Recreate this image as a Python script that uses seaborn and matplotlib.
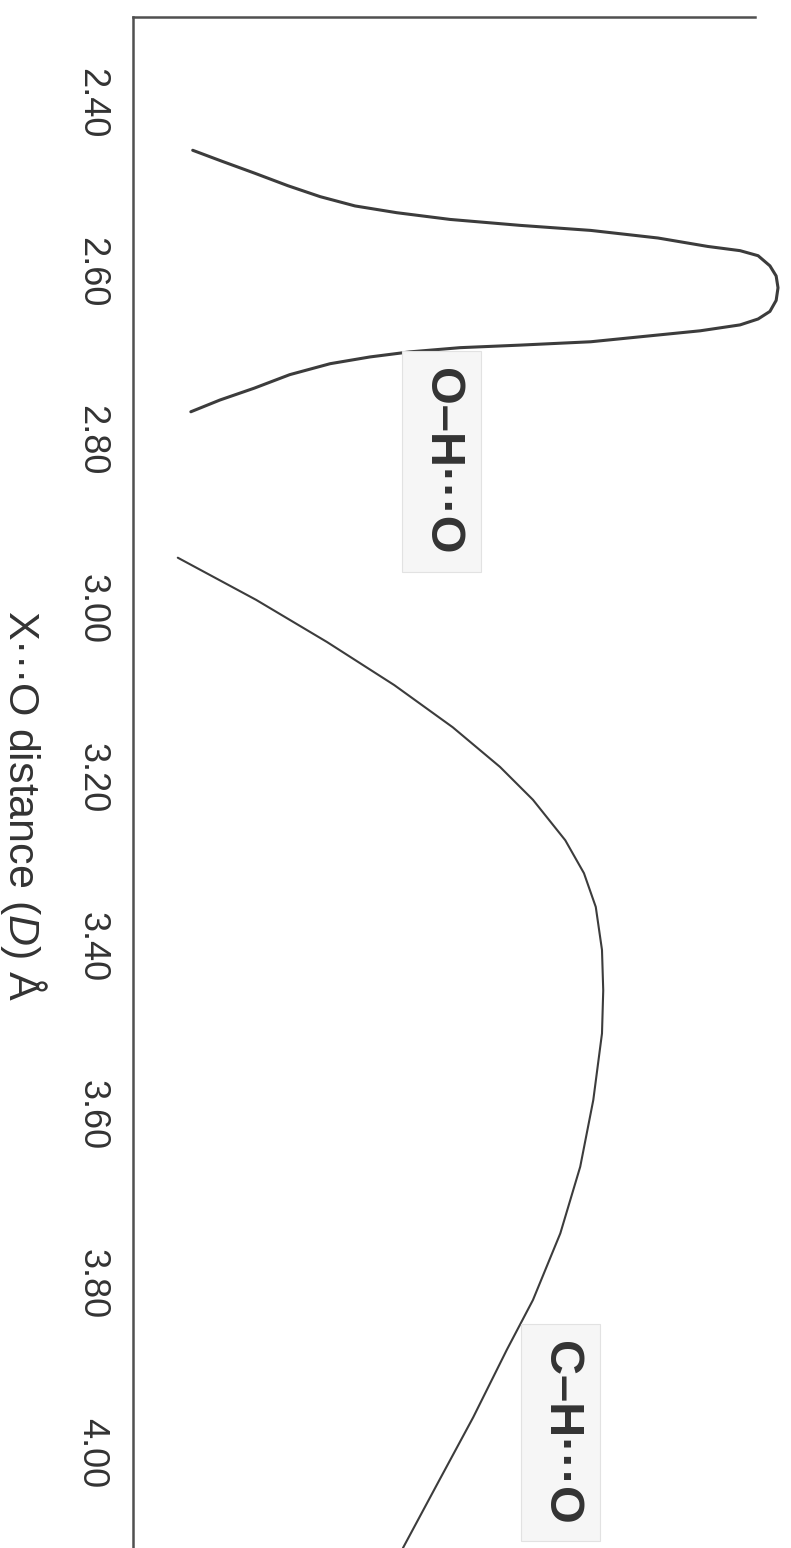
import matplotlib
matplotlib.use('Agg')
import matplotlib.pyplot as plt
import pandas as pd
import seaborn as sns


# O-H...O distribution (distance in angstrom, relative frequency)
oh_distance = [2.456, 2.469, 2.483, 2.498, 2.511, 2.522, 2.530, 2.538, 2.545,
               2.551, 2.560, 2.570, 2.575, 2.581, 2.593, 2.605, 2.619, 2.634,
               2.647, 2.656, 2.663, 2.670, 2.677, 2.683, 2.687, 2.690, 2.695,
               2.701, 2.709, 2.722, 2.738, 2.752, 2.766]
oh_count = [9.6, 14.3, 19.5, 24.9, 30.1, 35.7, 42.4, 51.0, 62.2,
            73.6, 84.4, 92.4, 97.6, 100.5, 102.4, 103.4, 103.7, 103.4,
            102.4, 100.5, 97.6, 91.2, 81.7, 73.6, 62.2, 52.6, 44.5,
            38.1, 31.7, 25.2, 19.5, 14.0, 9.3]

# C-H...O distribution
ch_distance = [2.939, 2.989, 3.039, 3.090, 3.140, 3.187, 3.226, 3.274, 3.313,
               3.353, 3.404, 3.452, 3.503, 3.582, 3.661, 3.740, 3.819, 3.878,
               3.958, 4.036, 4.113]
ch_count = [7.2, 19.8, 31.2, 42.0, 51.4, 59.0, 64.3, 69.5, 72.5,
            74.4, 75.4, 75.6, 75.4, 74.0, 71.9, 68.7, 64.3, 60.1,
            54.7, 49.0, 43.4]

tick_values = [2.40, 2.60, 2.80, 3.00, 3.20, 3.40, 3.60, 3.80, 4.00]
tick_labels = ['2.40', '2.60', '2.80', '3.00', '3.20', '3.40', '3.60', '3.80', '4.00']

sns.set_style('white')
plt.rcParams['font.family'] = ['Liberation Sans', 'DejaVu Sans']
plt.rcParams['mathtext.fontset'] = 'custom'
plt.rcParams['mathtext.rm'] = 'Liberation Sans'
plt.rcParams['mathtext.it'] = 'Liberation Sans:italic'

line_col = '#3c3c3c'
ink = '#333333'

oh_df = pd.DataFrame({'distance': oh_distance, 'count': oh_count})
ch_df = pd.DataFrame({'distance': ch_distance, 'count': ch_count})

fig = plt.figure(figsize=(7.91, 15.48), dpi=100)
ax = fig.add_axes([133 / 791, 0.0, (755 - 133) / 791, 1 - 17 / 1548])

sns.lineplot(data=oh_df, x='count', y='distance', orient='y', estimator=None,
             color=line_col, linewidth=2.2, clip_on=False, ax=ax)
sns.lineplot(data=ch_df, x='count', y='distance', orient='y', estimator=None,
             color=line_col, linewidth=1.5, clip_on=False, ax=ax)

ax.set_xlim(0, 100)
ax.set_ylim(4.113, 2.298)
ax.set_xlabel('')
ax.set_ylabel('')
ax.set_xticks([])
ax.set_yticks(tick_values)
ax.set_yticklabels(tick_labels)
ax.tick_params(axis='y', length=0, pad=17, labelsize=26, labelcolor=ink, labelrotation=-90)
for lab in ax.get_yticklabels():
  lab.set_va('center')

for side in ['bottom', 'right']:
  ax.spines[side].set_visible(False)
for side in ['left', 'top']:
  ax.spines[side].set_color('#505050')
  ax.spines[side].set_linewidth(1.8)

box = dict(boxstyle='square,pad=0.35', facecolor='#f6f6f6', edgecolor='#e2e2e2', linewidth=0.8)
ax.text(49.6, 2.825, 'O\u2013H\u00b7\u00b7\u00b7O', rotation=-90, ha='center', va='center',
        fontsize=35, fontweight='bold', color=ink, bbox=box)
ax.text(68.8, 3.976, 'C\u2013H\u00b7\u00b7\u00b7O', rotation=-90, ha='center', va='center',
        fontsize=35, fontweight='bold', color=ink, bbox=box, clip_on=False)

fig.text(23 / 791, 1 - 806 / 1548, 'X\u00b7\u00b7\u00b7O distance ($\\mathit{D}$) \u00c5',
         rotation=-90, ha='center', va='center', fontsize=31, color=ink)

fig.savefig('out.png', dpi=100, facecolor='white')
